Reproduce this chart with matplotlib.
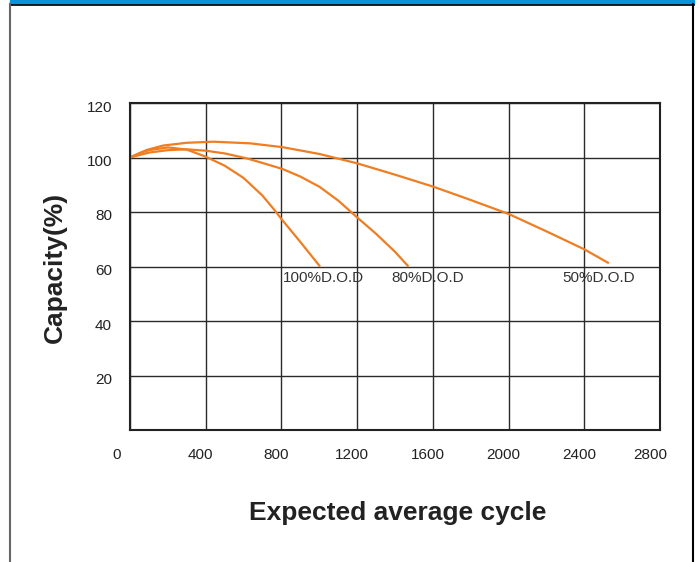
import matplotlib
matplotlib.use("Agg")
import matplotlib.pyplot as plt
import matplotlib.transforms as mtransforms
from matplotlib.patches import Rectangle
from matplotlib.lines import Line2D

plt.rcParams["font.family"] = ["Liberation Sans", "DejaVu Sans"]

# capacity curves
cyc_100 = [0, 50, 100, 200, 300, 400, 500, 600, 700, 760, 805, 900, 1004]
cap_100 = [100, 101.6, 102.7, 103.7, 102.9, 100.3, 97.0, 92.5, 86.0, 81.0, 77.0, 69.0, 60.0]

cyc_80 = [0, 100, 200, 300, 400, 500, 616, 700, 805, 900, 1000, 1100, 1200, 1300, 1400, 1471]
cap_80 = [100, 101.8, 102.7, 103.0, 102.5, 101.5, 99.7, 98.0, 95.8, 93.0, 89.3, 84.2, 78.0, 72.0, 65.4, 60.0]

cyc_50 = [0, 90, 176, 300, 440, 634, 805, 1000, 1198, 1400, 1602, 1800, 2003, 2200, 2400, 2530]
cap_50 = [100, 102.8, 104.4, 105.4, 105.8, 105.2, 103.8, 101.3, 97.9, 93.7, 89.3, 84.4, 79.2, 72.9, 66.3, 61.2]

labels = ["100%D.O.D", "80%D.O.D", "50%D.O.D"]
label_x = [808, 1383, 2286]
label_y = [55.8, 55.8, 55.8]

x_ticks = [0, 400, 800, 1200, 1600, 2000, 2400, 2800]
y_ticks = [0, 20, 40, 60, 80, 100, 120]
y_ticklabels = ["", "20", "40", "60", "80", "100", "120"]

orange = "#ef7d22"
fig = plt.figure(figsize=(7.0, 5.62), dpi=100)

# page frame: blue strip at top, thin borders at the sides
W, H = 700, 562
fig.patches.append(Rectangle((10 / W, 1 - 4 / H), 684 / W, 4 / H, transform=fig.transFigure,
                             color="#0a93db", zorder=0))
fig.lines.append(Line2D([10 / W, 694 / W], [1 - 5 / H, 1 - 5 / H], transform=fig.transFigure,
                        color="black", lw=1.2))
fig.lines.append(Line2D([9.5 / W, 9.5 / W], [0, 1 - 4 / H], transform=fig.transFigure,
                        color="#666666", lw=1.5))
fig.lines.append(Line2D([693 / W, 693 / W], [0, 1 - 4 / H], transform=fig.transFigure,
                        color="black", lw=1.5))

ax = fig.add_axes([130 / W, 1 - 430 / H, 530 / W, 327 / H])

ax.plot(cyc_100, cap_100, color=orange, lw=1.6, solid_capstyle="butt")
ax.plot(cyc_80, cap_80, color=orange, lw=1.6, solid_capstyle="butt")
ax.plot(cyc_50, cap_50, color=orange, lw=1.6, solid_capstyle="butt")

for txt, lx, ly in zip(labels, label_x, label_y):
    ax.text(lx, ly, txt, fontsize=11, color="#333333", ha="left", va="center")

ax.set_xlim(0, 2800)
ax.set_ylim(0, 120)
ax.set_xticks(x_ticks)
ax.set_xticklabels([str(v) for v in x_ticks])
ax.set_yticks(y_ticks)
ax.set_yticklabels(y_ticklabels)
ax.grid(True, color="#2a2a2a", lw=1.0)
ax.set_axisbelow(True)
ax.tick_params(length=0, labelsize=11, colors="#222222")
ax.tick_params(axis="x", pad=13)
ax.tick_params(axis="y", pad=13)
for s in ax.spines.values():
    s.set_linewidth(1.5)
    s.set_color("#222222")

# x labels sit a bit left of their gridlines in the original
shifts = [-13, -5, -5, -5, -5, -5, -5, -10]
for lab, dx in zip(ax.get_xticklabels(), shifts):
    lab.set_transform(lab.get_transform() + mtransforms.ScaledTranslation(dx / 100, 0, fig.dpi_scale_trans))
for lab in ax.get_yticklabels():
    lab.set_transform(lab.get_transform() + mtransforms.ScaledTranslation(0, -3 / 100, fig.dpi_scale_trans))

fig.text(398 / W, 1 - 513 / H, "Expected average cycle", fontsize=19, fontweight="bold",
         color="#222222", ha="center", va="center")
fig.text(55 / W, 1 - 267 / H, "Capacity(%)", fontsize=19, fontweight="bold",
         color="#222222", ha="center", va="center", rotation=90)

fig.savefig("out.png", dpi=100)
